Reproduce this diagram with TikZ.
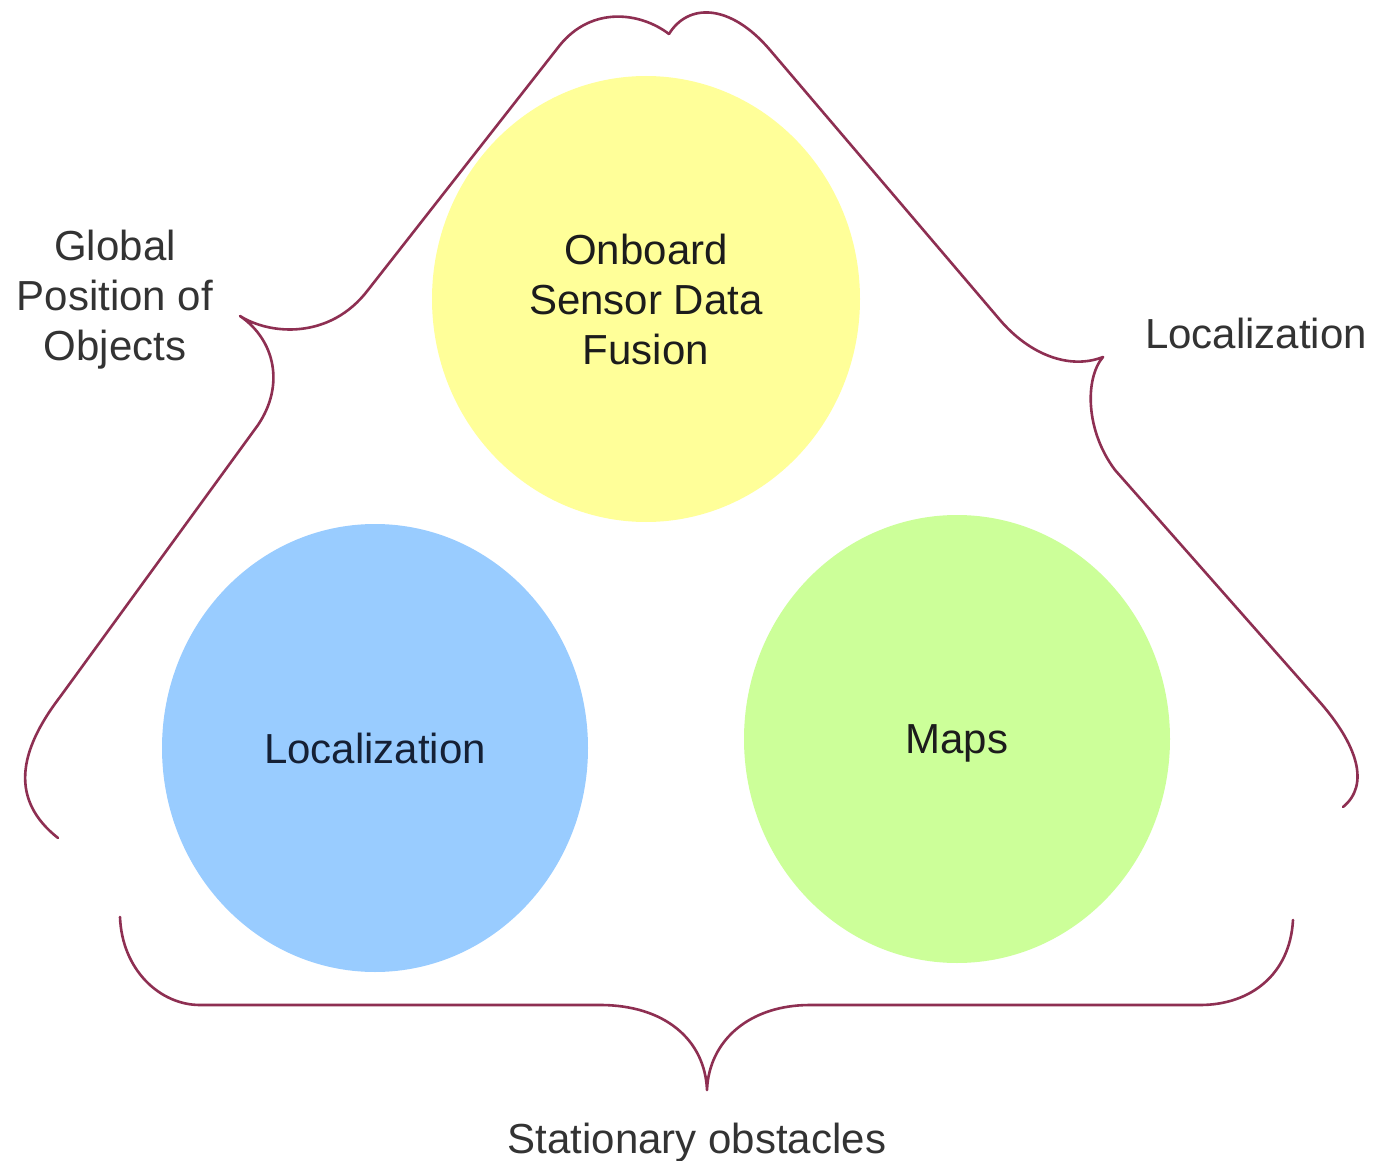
\documentclass[tikz,border=0pt]{standalone}
\usepackage{fontspec}
\setmainfont{Liberation Sans}
\usetikzlibrary{shapes.geometric}
\definecolor{bracecol}{HTML}{8E2F52}
\definecolor{labelgray}{HTML}{333333}
\definecolor{innertext}{HTML}{1C1C1C}
\definecolor{navytext}{HTML}{152035}
\definecolor{yellowfill}{HTML}{FFFF99}
\definecolor{bluefill}{HTML}{99CCFF}
\definecolor{greenfill}{HTML}{CCFF99}
\begin{document}
\begin{tikzpicture}[x=1pt,y=-1pt,
  blob/.style={ellipse, draw=none, inner sep=0pt, align=center,
    font=\fontsize{42}{50}\selectfont},
  lbl/.style={text=labelgray, font=\fontsize{42}{50}\selectfont, align=center, inner sep=0pt},
  bracepath/.style={draw=bracecol, line width=2.6pt, line cap=round, line join=round}]
\useasboundingbox (0,0) rectangle (1393,1161);
\fill[white] (0,0) rectangle (1393,1161);

% circles
\node[blob, fill=yellowfill, text=innertext, minimum width=428pt, minimum height=446pt]
  (fusion) at (646,299) {Onboard\\Sensor Data\\Fusion};
\node[blob, fill=bluefill, text=navytext, minimum width=426pt, minimum height=448pt]
  (loc) at (375,748) {Localization};
\node[blob, fill=greenfill, text=innertext, minimum width=426pt, minimum height=448pt, text depth=0pt]
  (maps) at (957,739) {Maps};

% labels
\node[lbl] (global) at (115,300) {Global\\Position of\\Objects};
\node[lbl, anchor=base] (locr) at (1256,348) {Localization};
\node[lbl, anchor=base] (stat) at (697,1153) {Stationary obstacles};

% coordinates of brace ends and tips
\coordinate (lend) at (58,838);
\coordinate (ltip) at (240,316);
\coordinate (ttip) at (669,34);
\coordinate (rtip) at (1103,357);
\coordinate (rend) at (1343,807);
\coordinate (bl) at (120,917);
\coordinate (btip) at (707,1090);
\coordinate (br) at (1293,920);

% left brace
\draw[bracepath] (lend) .. controls (10,800) and (18,752) .. (60,697)
  -- (258,425) .. controls (285,385) and (275,340) .. (ltip)
  .. controls (270,335) and (330,340) .. (368,290)
  -- (560,45) .. controls (592,6) and (640,12) .. (ttip);
% right brace
\draw[bracepath] (ttip) .. controls (688,3) and (730,3) .. (770,50)
  -- (1000,320) .. controls (1030,355) and (1070,370) .. (rtip)
  .. controls (1085,378) and (1085,430) .. (1115,470)
  -- (1318,700) .. controls (1358,745) and (1370,785) .. (rend);
% bottom brace
\draw[bracepath] (bl) .. controls (122,970) and (160,1005) .. (200,1005)
  -- (600,1005) .. controls (665,1005) and (705,1040) .. (btip)
  .. controls (709,1040) and (750,1005) .. (810,1005)
  -- (1200,1005) .. controls (1250,1005) and (1290,975) .. (br);
\end{tikzpicture}
\end{document}
